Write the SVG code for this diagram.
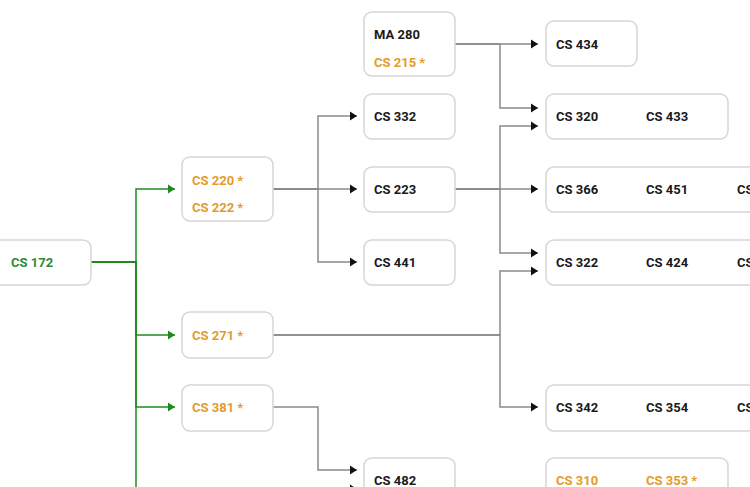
<svg xmlns="http://www.w3.org/2000/svg" width="750" height="487" viewBox="0 0 750 487">
<defs>
<marker id="ab" markerUnits="userSpaceOnUse" markerWidth="8" markerHeight="10" refX="7" refY="5" orient="auto"><path d="M0,0.5 L7,5 L0,9.5 z" fill="#111"/></marker>
<marker id="ag" markerUnits="userSpaceOnUse" markerWidth="8" markerHeight="10" refX="7" refY="5" orient="auto"><path d="M0,0.5 L7,5 L0,9.5 z" fill="#1f8a1f"/></marker>
<style>
.box{fill:#fff;stroke:#d6d6d6;stroke-width:1.5}
text{font-family:Roboto,"Liberation Sans",sans-serif;font-size:13px;font-weight:700}
.k{fill:#1a1a1a}
.o{fill:#e39b2c}
.g{fill:#2b8a3a}
.eg{fill:none;stroke:#1f8a1f;stroke-width:1.5}
.eb{fill:none;stroke:#8a8a8a;stroke-width:1.5}
</style>
</defs>
<rect width="750" height="487" fill="#fff"/>
<g id="connectors">
<path class="eg" d="M91 262 H136 V189 H175" marker-end="url(#ag)"/>
<path class="eg" d="M91 262 H136 V335 H175" marker-end="url(#ag)"/>
<path class="eg" d="M91 262 H136 V407 H175" marker-end="url(#ag)"/>
<path class="eg" d="M91 262 H136 V520"/>
<path class="eb" d="M273 189 H318 V116 H357" marker-end="url(#ab)"/>
<path class="eb" d="M273 189 H357" marker-end="url(#ab)"/>
<path class="eb" d="M273 189 H318 V262 H357" marker-end="url(#ab)"/>
<path class="eb" d="M273 407 H318 V470 H357" marker-end="url(#ab)"/>
<path class="eb" d="M318 520 V489 H357" marker-end="url(#ab)"/>
<path class="eb" d="M455 44 H538" marker-end="url(#ab)"/>
<path class="eb" d="M455 44 H500 V108 H538" marker-end="url(#ab)"/>
<path class="eb" d="M455 189 H500 V126 H538" marker-end="url(#ab)"/>
<path class="eb" d="M455 189 H538" marker-end="url(#ab)"/>
<path class="eb" d="M455 189 H500 V253 H538" marker-end="url(#ab)"/>
<path class="eb" d="M273 335 H500 V271 H538" marker-end="url(#ab)"/>
<path class="eb" d="M273 335 H500 V407 H538" marker-end="url(#ab)"/>
</g>
<g id="cs172"><rect class="box" x="-9" y="240" width="100" height="45" rx="8"/><text class="g" x="11" y="267">CS 172</text></g>
<g id="cs220"><rect class="box" x="182" y="157" width="91" height="64" rx="8"/><text class="o" x="192" y="185">CS 220 *</text><text class="o" x="192" y="212">CS 222 *</text></g>
<g id="cs271"><rect class="box" x="182" y="312" width="91" height="46" rx="8"/><text class="o" x="192" y="340">CS 271 *</text></g>
<g id="cs381"><rect class="box" x="182" y="385" width="91" height="46" rx="8"/><text class="o" x="192" y="412">CS 381 *</text></g>
<g id="ma280"><rect class="box" x="364" y="12" width="91" height="64" rx="8"/><text class="k" x="374" y="39">MA 280</text><text class="o" x="374" y="67">CS 215 *</text></g>
<g id="cs332"><rect class="box" x="364" y="94" width="91" height="45" rx="8"/><text class="k" x="374" y="121">CS 332</text></g>
<g id="cs223"><rect class="box" x="364" y="167" width="91" height="45" rx="8"/><text class="k" x="374" y="194">CS 223</text></g>
<g id="cs441"><rect class="box" x="364" y="240" width="91" height="45" rx="8"/><text class="k" x="374" y="267">CS 441</text></g>
<g id="cs482"><rect class="box" x="364" y="458" width="91" height="45" rx="8"/><text class="k" x="374" y="485">CS 482</text></g>
<g id="cs434"><rect class="box" x="546" y="21" width="91" height="45" rx="8"/><text class="k" x="556" y="49">CS 434</text></g>
<g id="cs320"><rect class="box" x="546" y="94" width="182" height="45" rx="8"/><text class="k" x="556" y="121">CS 320</text><text class="k" x="646" y="121">CS 433</text></g>
<g id="cs366"><rect class="box" x="546" y="167" width="240" height="45" rx="8"/><text class="k" x="556" y="194">CS 366</text><text class="k" x="646" y="194">CS 451</text><text class="k" x="737" y="194">CS</text></g>
<g id="cs322"><rect class="box" x="546" y="240" width="240" height="45" rx="8"/><text class="k" x="556" y="267">CS 322</text><text class="k" x="646" y="267">CS 424</text><text class="k" x="737" y="267">CS</text></g>
<g id="cs342"><rect class="box" x="546" y="385" width="240" height="46" rx="8"/><text class="k" x="556" y="412">CS 342</text><text class="k" x="646" y="412">CS 354</text><text class="k" x="737" y="412">CS</text></g>
<g id="cs310"><rect class="box" x="546" y="458" width="182" height="45" rx="8"/><text class="o" x="556" y="485">CS 310</text><text class="o" x="646" y="485">CS 353 *</text></g>
</svg>
